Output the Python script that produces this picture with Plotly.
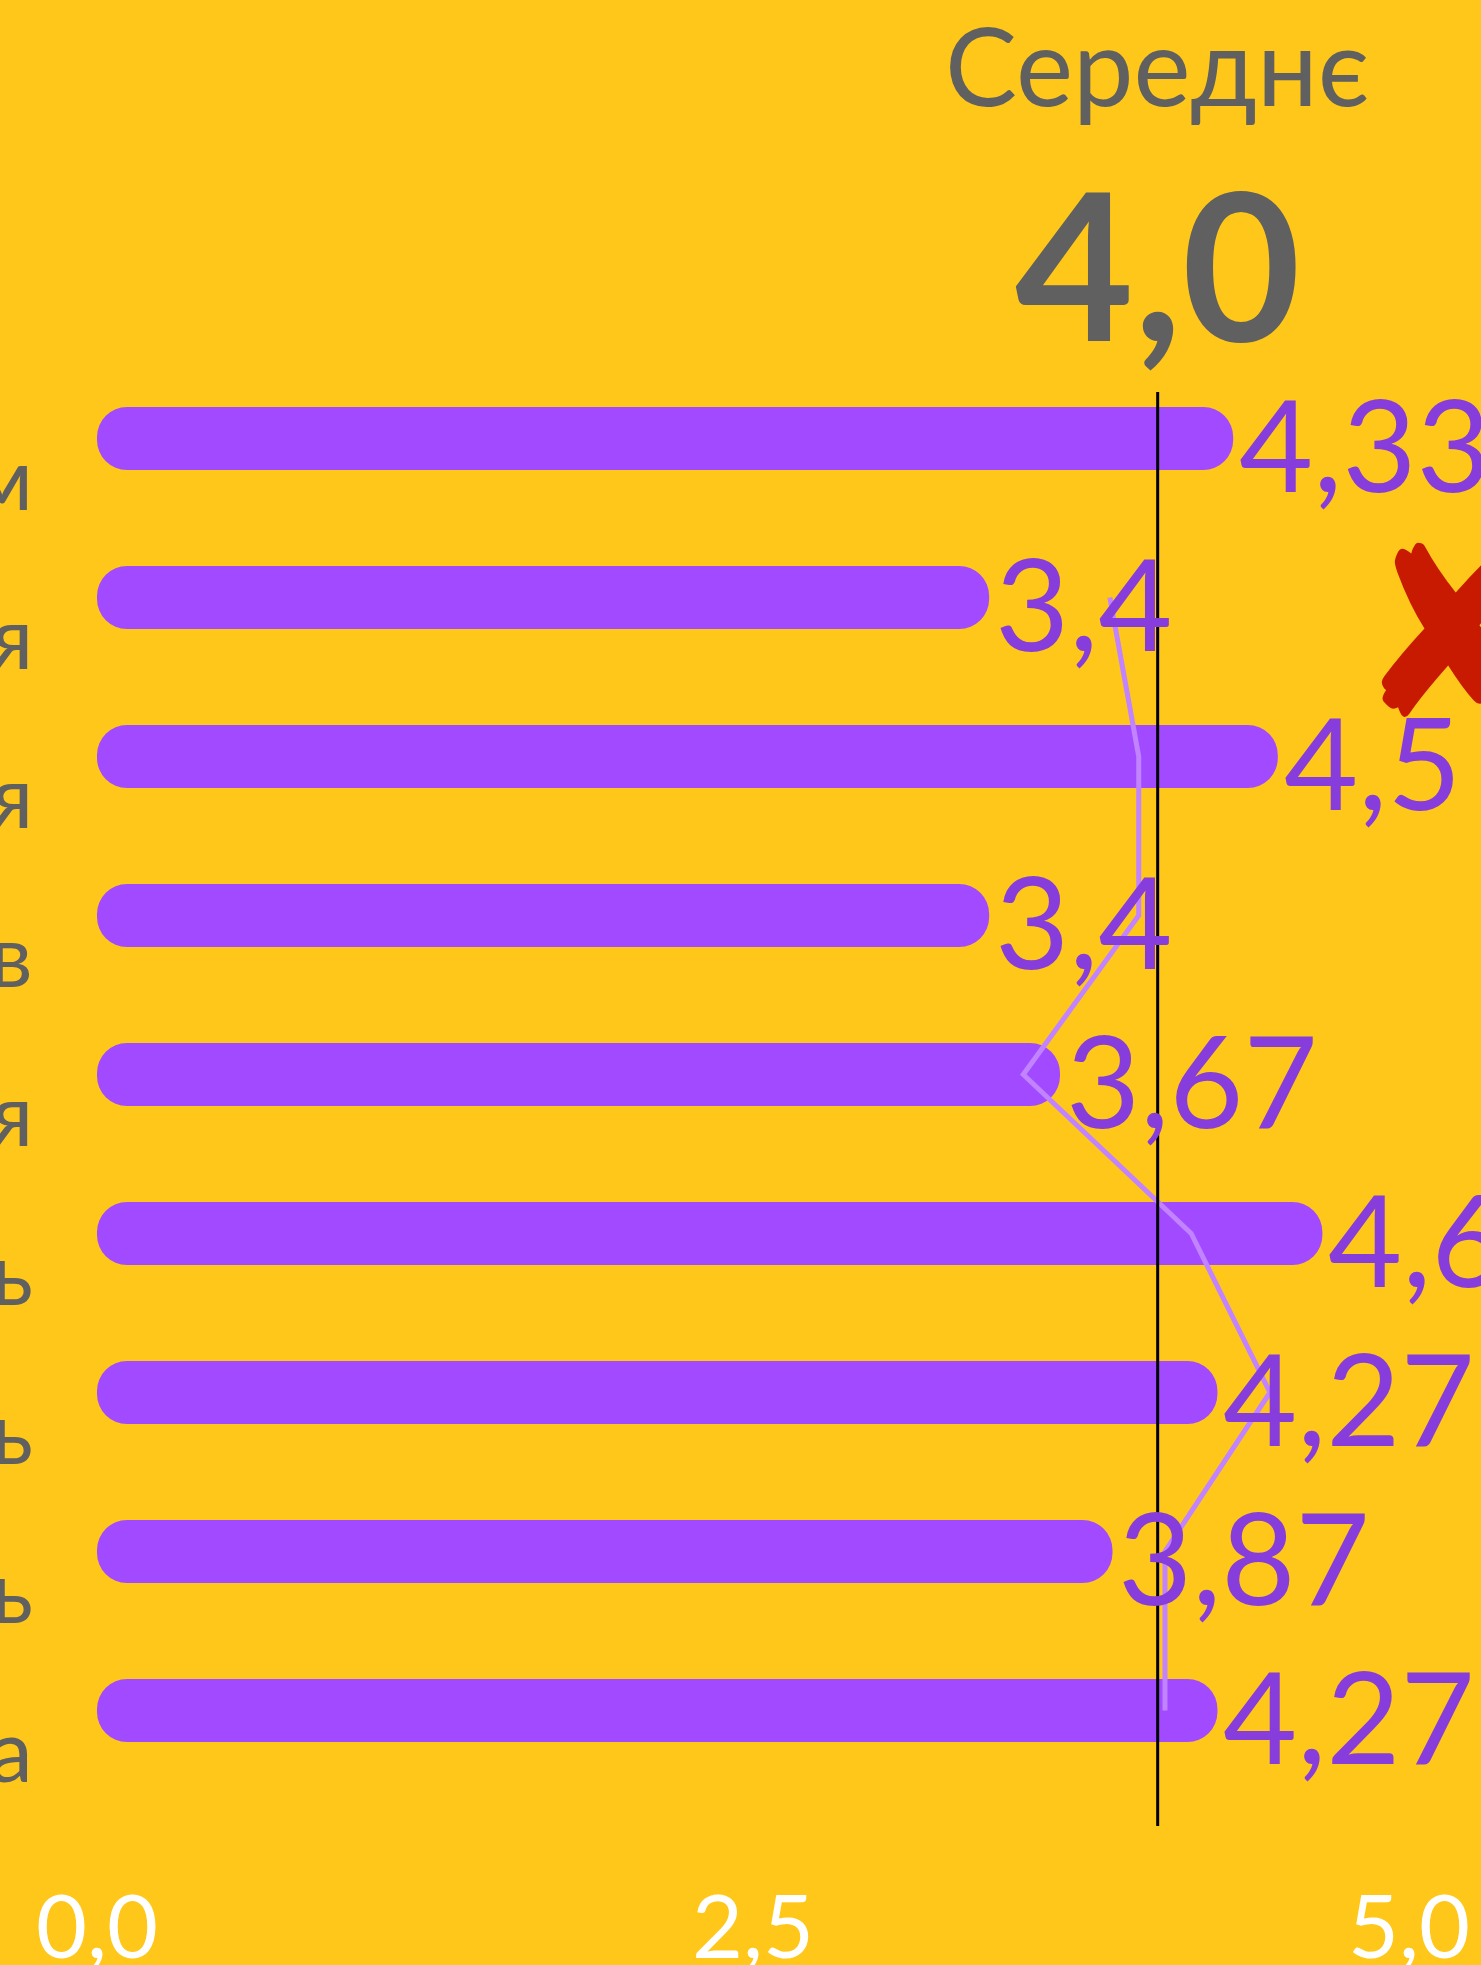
import plotly.graph_objects as go

# ---- data ----
categories = ["м", "я", "я", "в", "я", "ь", "ь", "ь", "а"]
values = [4.33, 3.4, 4.5, 3.4, 3.67, 4.67, 4.27, 3.87, 4.27]
value_labels = ["4,33", "3,4", "4,5", "3,4", "3,67", "4,67", "4,27", "3,87", "4,27"]
line_values = [None, 3.86, 3.97, 3.97, 3.53, 4.17, 4.47, 4.07, 4.07]
x_ticks = [0, 2.5, 5]
mean_title = "Середнє"

# ---- style ----
BG = "#FFC719"
BAR = "#A24AFF"
LABEL = "#873DDB"
LINE = "#C183FF"
GRAY = "#606060"
RED = "#C81A00"
FONT = "Lato"

W, H_FIG = 1481, 1965
B = 100
H = H_FIG - B
ROW_PX = 159.0
FIRST_ROW_PX = 438.5
X0_PX = 97.0
UNIT_PX = 262.4

idx = list(range(len(categories)))
r0 = -FIRST_ROW_PX / ROW_PX
r1 = r0 + H / ROW_PX
mean = sum(values) / len(values)
line_top = (392 - FIRST_ROW_PX) / ROW_PX
line_bot = (1826 - FIRST_ROW_PX) / ROW_PX

fig = go.Figure()
fig.add_trace(go.Bar(
    y=idx, x=values, base=[0] * len(values), orientation="h",
    width=0.396, marker=dict(color=BAR, cornerradius=30, line=dict(width=0)),
    hoverinfo="skip", showlegend=False))

fig.add_trace(go.Scatter(
    x=line_values, y=idx, mode="lines", line=dict(color=LINE, width=5),
    hoverinfo="skip", showlegend=False))

# mean line
fig.add_shape(type="line", xref="x", yref="y", x0=mean, x1=mean, y0=line_top, y1=line_bot,
              line=dict(color="black", width=3))

anns = []
for i, (v, t) in enumerate(zip(values, value_labels)):
    anns.append(dict(x=v, y=i, xref="x", yref="y", text=t, showarrow=False,
                     xanchor="left", yanchor="middle", xshift=4, yshift=-4,
                     font=dict(family=FONT, size=128, color=LABEL)))
for i, c in enumerate(categories):
    anns.append(dict(x=35 / W, y=i, xref="paper", yref="y", text=c, showarrow=False,
                     xanchor="right", yanchor="middle", yshift=-37,
                     font=dict(family=FONT, size=88, color=GRAY)))
mean_txt = f"{mean:.1f}".replace(".", ",")
anns.append(dict(x=mean, y=1 - 64 / H, xref="x", yref="paper", text=mean_title,
                 showarrow=False, xanchor="center", yanchor="middle",
                 font=dict(family=FONT, size=108, color=GRAY)))
anns.append(dict(x=mean, y=1 - 262 / H, xref="x", yref="paper", text=f"<b>{mean_txt}</b>",
                 showarrow=False, xanchor="center", yanchor="middle",
                 font=dict(family=FONT, size=205, color=GRAY)))
anns.append(dict(x=1455 / W, y=1 - 630 / H, xref="paper", yref="paper", text="✘",
                 showarrow=False, xanchor="center", yanchor="middle",
                 font=dict(family="DejaVu Sans", size=250, color=RED)))

fig.update_layout(
    width=W, height=H_FIG,
    margin=dict(l=0, r=0, t=0, b=B, pad=0, autoexpand=False),
    paper_bgcolor=BG, plot_bgcolor=BG,
    barmode="overlay", separators=", ",
    annotations=anns,
    xaxis=dict(range=[-X0_PX / UNIT_PX, (W - X0_PX) / UNIT_PX], tickvals=x_ticks,
               tickformat=".1f", showgrid=False, zeroline=False, showline=False,
               ticks="", ticklabelstandoff=4, automargin=False,
               tickfont=dict(family=FONT, size=88, color="white"),
               fixedrange=True),
    yaxis=dict(range=[r1, r0], showgrid=False, zeroline=False, showline=False,
               showticklabels=False, ticks="", automargin=False, fixedrange=True),
)

fig.write_html(
    "out.html",
    config={"displayModeBar": False},
    post_script="document.body.style.margin='0';document.body.style.background='%s';"
                "document.body.style.overflow='hidden';" % BG,
)
